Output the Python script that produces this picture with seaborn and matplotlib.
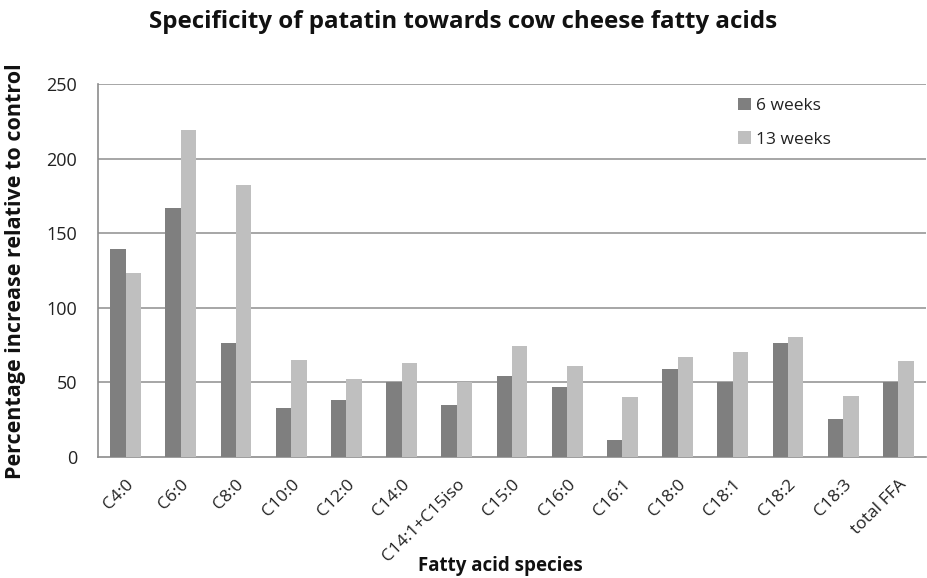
import matplotlib
matplotlib.use("Agg")
import matplotlib.pyplot as plt
import seaborn as sns
import pandas as pd
import numpy as np

categories = ["C4:0", "C6:0", "C8:0", "C10:0", "C12:0", "C14:0", "C14:1+C15iso",
              "C15:0", "C16:0", "C16:1", "C18:0", "C18:1", "C18:2", "C18:3", "total FFA"]
weeks_6 = [139, 167, 76, 33, 38, 50, 35, 54, 47, 11, 59, 50, 76, 25, 50]
weeks_13 = [123, 219, 182, 65, 52, 63, 50, 74, 61, 40, 67, 70, 80, 41, 64]
series_names = ["6 weeks", "13 weeks"]
y_ticks = [0, 50, 100, 150, 200, 250]

df = pd.DataFrame({
    "species": categories * 2,
    "value": weeks_6 + weeks_13,
    "period": [series_names[0]] * len(categories) + [series_names[1]] * len(categories),
})

sns.set_style("white")
plt.rcParams["font.family"] = ["Open Sans", "DejaVu Sans"]

fig = plt.figure(figsize=(9.27, 5.78), dpi=100)
ax = fig.add_axes([98 / 927, 1 - 456.7 / 578, 828 / 927, 372.7 / 578])

palette = {series_names[0]: "#7f7f7f", series_names[1]: "#bfbfbf"}
sns.barplot(data=df, x="species", y="value", hue="period", order=categories,
            hue_order=series_names, palette=palette, width=0.56, gap=0,
            saturation=1, errorbar=None, ax=ax, zorder=3,
            edgecolor="none", linewidth=0)

ax.set_ylim(0, 250)
ax.set_xlim(-0.5, len(categories) - 0.5)
ax.set_yticks(y_ticks)
ax.set_yticklabels([str(v) for v in y_ticks], fontsize=13, color="#222222")
for v in y_ticks[1:]:
    ax.axhline(v, color="#a6a6a6", linewidth=1.4, zorder=1)

# category labels at centres, tick marks at the boundaries
ax.set_xticks(np.arange(len(categories)))
ax.set_xticklabels(categories, rotation=45, ha="right", rotation_mode="anchor",
                   fontsize=12.5, color="#222222")
ax.set_xticks(np.arange(len(categories) + 1) - 0.5, minor=True)
ax.tick_params(axis="x", which="major", length=0, pad=14)
ax.tick_params(axis="x", which="minor", length=5, width=1, color="#8c8c8c", direction="out")
ax.tick_params(axis="y", length=6, width=1, color="#8c8c8c", direction="out", pad=9)

for side in ["top", "right"]:
    ax.spines[side].set_visible(False)
for side in ["left", "bottom"]:
    ax.spines[side].set_color("#8c8c8c")
    ax.spines[side].set_linewidth(1.2)

ax.set_xlabel("")
ax.set_ylabel("")
fig.text(500 / 927, 1 - 566 / 578, "Fatty acid species", ha="center", va="center",
         fontsize=13.5, fontweight="bold", color="#111111")
fig.text(16 / 927, 1 - 271 / 578, "Percentage increase relative to control",
         rotation=90, ha="center", va="center", fontsize=15.5, fontweight="bold",
         color="#111111")
fig.text(0.5, 1 - 22 / 578, "Specificity of patatin towards cow cheese fatty acids",
         ha="center", va="center", fontsize=17.4, fontweight="bold", color="#111111")

leg = ax.legend(loc="upper left", bbox_to_anchor=(722 / 927, 1 - 82 / 578),
                bbox_transform=fig.transFigure, frameon=False, fontsize=12.5,
                handlelength=0.75, handleheight=0.75, handletextpad=0.3,
                labelspacing=1.0)
for t in leg.get_texts():
    t.set_color("#222222")

fig.savefig("out.png", dpi=100, facecolor="white")
